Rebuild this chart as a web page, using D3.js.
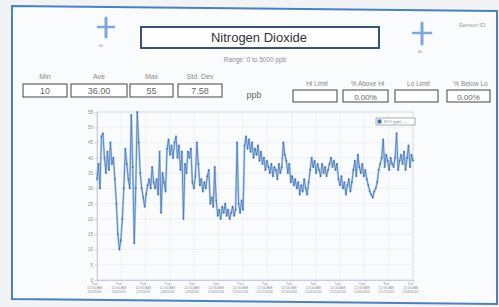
<!DOCTYPE html>
<html>
<head>
<meta charset="utf-8">
<script src="https://cdn.jsdelivr.net/npm/d3@7"></script>
<style>
  html, body { margin: 0; padding: 0; background: #f1f3f5; }
  svg { display: block; font-family: "Liberation Sans", Arial, sans-serif; }
</style>
</head>
<body>
<svg id="chart" width="499" height="307"></svg>
<script>
// NO2 readings (ppb) left to right
const no2Values = [
  33, 38, 30, 47, 48, 40, 35, 42, 36, 45, 38, 40, 33,
  25, 15, 10, 13, 20, 30, 43, 38,
  33, 30, 54, 37, 12, 30, 55, 45, 35,
  30, 27, 24, 28, 31, 33, 30, 37, 32, 30, 33,
  28, 42, 22, 35, 32, 29,
  43, 46, 41, 44, 40, 45, 47, 40, 44, 36,
  42, 20, 38, 35, 42, 40, 43, 32, 30, 34, 45, 38,
  31, 33, 29, 32, 30, 34, 36, 25, 27, 24, 37,
  26, 21, 23, 20, 24, 22, 25, 21, 23, 20, 22, 24, 21, 23,
  45, 25, 22, 26, 23,
  44, 47, 43, 46, 42, 45, 40, 43, 41, 44, 39, 42,
  38, 40, 36, 39, 37, 35, 38, 34, 37, 36, 33, 38, 35, 37,
  45, 41, 39, 35, 38, 32, 34, 31,
  33, 30, 32, 28, 31, 29, 33, 30, 28, 32,
  36, 40, 37, 39, 35, 38, 36, 34, 38, 35, 37, 34, 36,
  38, 40, 37, 39, 36, 38,
  33, 31, 34, 30, 32, 28, 31, 33, 29, 32,
  36, 39, 34, 41, 37, 35, 38, 34, 36, 33,
  31, 29, 28, 27, 29, 30, 32,
  36, 38, 40, 46, 37, 41, 39, 36, 40, 38,
  37, 40, 48, 36, 39, 41,
  38, 42, 36, 40, 44, 37, 41, 39
];

const yTicks = [0, 5, 10, 15, 20, 25, 30, 35, 40, 45, 50, 55];
const xTickDates = ["1/5/2016", "1/6/2016", "1/7/2016", "1/8/2016", "1/9/2016", "1/10/2016", "1/11/2016",
  "1/12/2016", "1/13/2016", "1/14/2016", "1/15/2016", "1/16/2016", "1/17/2016", "1/18/2016"];

const statLabels = ["Min", "Ave", "Max", "Std. Dev"];
const statValues = ["10", "36.00", "55", "7.58"];
const limitLabels = ["Hi Limit", "% Above Hi", "Lo Limit", "% Below Lo"];
const limitValues = ["", "0.00%", "", "0.00%"];

const svg = d3.select("#chart");
const blue = "#4a80c4";

// photo frame of the dashboard panel
svg.append("path")
  .attr("d", "M12,6 L497,11 L497,304 L12,299 Z")
  .attr("fill", "#fafbfc")
  .attr("stroke", blue)
  .attr("stroke-width", 2);

// plus buttons
function plus(cx, cy, s) {
  const g = svg.append("g").attr("stroke", "#7ca8dc").attr("stroke-linecap", "round");
  g.append("line").attr("x1", cx - s).attr("x2", cx + s).attr("y1", cy).attr("y2", cy).attr("stroke-width", 2.5);
  g.append("line").attr("x1", cx).attr("x2", cx).attr("y1", cy - s - 1).attr("y2", cy + s + 2).attr("stroke-width", 3);
}
plus(106, 27, 8);
plus(422, 33, 9);
svg.append("text").attr("x", 101).attr("y", 47).attr("font-size", 4).attr("fill", "#aab").attr("text-anchor", "middle").text("Alt");
svg.append("text").attr("x", 420).attr("y", 53).attr("font-size", 4).attr("fill", "#aab").attr("text-anchor", "middle").text("Alt");
svg.append("text").attr("x", 472).attr("y", 27).attr("font-size", 6).attr("fill", "#99a").attr("text-anchor", "middle").text("Sensor ID");

// title box
svg.append("rect").attr("x", 141).attr("y", 27).attr("width", 238).attr("height", 21)
  .attr("fill", "#fff").attr("stroke", "#24406c").attr("stroke-width", 1.8);
svg.append("text").attr("x", 259).attr("y", 42).attr("font-size", 13).attr("fill", "#333")
  .attr("text-anchor", "middle").text("Nitrogen Dioxide");
svg.append("text").attr("x", 255).attr("y", 62).attr("font-size", 6.5).attr("fill", "#8a90a0")
  .attr("text-anchor", "middle").text("Range: 0 to 5000 ppb");

// stats fields
const statBoxes = [[23, 44], [71, 56], [130, 43], [178, 44]];
statBoxes.forEach(([x, w], i) => {
  svg.append("text").attr("x", x + w / 2).attr("y", 79).attr("font-size", 7).attr("fill", "#888")
    .attr("text-anchor", "middle").text(statLabels[i]);
  svg.append("rect").attr("x", x).attr("y", 84).attr("width", w).attr("height", 13)
    .attr("fill", "#fff").attr("stroke", "#444").attr("stroke-width", 1);
  svg.append("text").attr("x", x + w / 2).attr("y", 94).attr("font-size", 9).attr("fill", "#666")
    .attr("text-anchor", "middle").text(statValues[i]);
});
svg.append("text").attr("x", 254).attr("y", 98).attr("font-size", 9).attr("fill", "#666")
  .attr("text-anchor", "middle").text("ppb");

const limitBoxes = [[293, 44], [343, 45], [395, 43], [447, 43]];
limitBoxes.forEach(([x, w], i) => {
  svg.append("text").attr("x", x + w / 2 + 2).attr("y", 86).attr("font-size", 6.5).attr("fill", "#888")
    .attr("text-anchor", "middle").text(limitLabels[i]);
  svg.append("rect").attr("x", x).attr("y", 90).attr("width", w).attr("height", 12)
    .attr("fill", "#fff").attr("stroke", "#444").attr("stroke-width", 1);
  svg.append("text").attr("x", x + w / 2).attr("y", 99.5).attr("font-size", 8).attr("fill", "#666")
    .attr("text-anchor", "middle").text(limitValues[i]);
});

// chart
const plot = { left: 97, right: 413, top: 112, bottom: 280 };
const x = d3.scaleLinear().domain([0, xTickDates.length - 1]).range([plot.left, plot.right]);
const y = d3.scaleLinear().domain([0, 55]).range([plot.bottom, plot.top]);
const step = (xTickDates.length - 1) / (no2Values.length - 1);

const grid = svg.append("g").attr("stroke", "#eaedf1").attr("stroke-width", 0.7);
yTicks.forEach(t => grid.append("line").attr("x1", plot.left).attr("x2", plot.right).attr("y1", y(t)).attr("y2", y(t)));
xTickDates.forEach((d, i) => grid.append("line").attr("x1", x(i)).attr("x2", x(i)).attr("y1", plot.top).attr("y2", plot.bottom));
svg.append("rect").attr("x", plot.left).attr("y", plot.top).attr("width", plot.right - plot.left)
  .attr("height", plot.bottom - plot.top).attr("fill", "none").attr("stroke", "#d4d9e0").attr("stroke-width", 0.8);

const yAxis = svg.append("g").attr("transform", `translate(${plot.left},0)`)
  .call(d3.axisLeft(y).tickValues(yTicks).tickSize(2).tickPadding(2));
yAxis.select(".domain").attr("stroke", "#ccd");
yAxis.selectAll(".tick line").attr("stroke", "#ccd");
yAxis.selectAll("text").attr("font-size", 4.5).attr("fill", "#8a8f99").attr("font-family", "Liberation Sans, Arial, sans-serif");

const xAxis = svg.append("g").attr("transform", `translate(0,${plot.bottom})`)
  .call(d3.axisBottom(x).tickValues(d3.range(xTickDates.length)).tickSize(2).tickFormat(() => ""));
xAxis.select(".domain").attr("stroke", "#ccd");
xAxis.selectAll(".tick line").attr("stroke", "#ccd");
xAxis.selectAll(".tick").each(function (d) {
  const t = d3.select(this).append("text").attr("fill", "#8a8f99").attr("font-size", 3.6).attr("text-anchor", "middle");
  t.append("tspan").attr("x", -3).attr("y", 5).text("Tue");
  t.append("tspan").attr("x", -3).attr("y", 9).text("12:00 AM");
  t.append("tspan").attr("x", -3).attr("y", 13).text(xTickDates[d]);
});

const line = d3.line().x((d, i) => x(i * step)).y(d => y(d));
svg.append("path").datum(no2Values).attr("d", line)
  .attr("fill", "none").attr("stroke", "#6c9bd6").attr("stroke-width", 2.2).attr("opacity", 0.45)
  .attr("stroke-linejoin", "round");
svg.append("path").datum(no2Values).attr("d", line)
  .attr("fill", "none").attr("stroke", "#3f75b9").attr("stroke-width", 0.9).attr("opacity", 0.85);
svg.append("g").selectAll("circle").data(no2Values).join("circle")
  .attr("cx", (d, i) => x(i * step)).attr("cy", d => y(d)).attr("r", 1)
  .attr("fill", "#2c5e9e").attr("opacity", 0.6);

// legend
const lg = svg.append("g").attr("transform", "translate(376,118)");
lg.append("rect").attr("width", 39).attr("height", 7).attr("fill", "#fff").attr("stroke", "#777").attr("stroke-width", 0.6);
lg.append("rect").attr("x", 1.5).attr("y", 1.5).attr("width", 4).attr("height", 4).attr("fill", "#3f74b8");
lg.append("text").attr("x", 8).attr("y", 5.2).attr("font-size", 3.8).attr("fill", "#889").text("NO2 (ppb)   —");
</script>
</body>
</html>
